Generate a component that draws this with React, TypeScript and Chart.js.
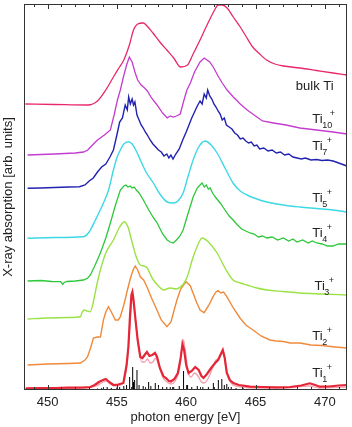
import React, { useEffect, useRef } from 'react';
import { Chart, registerables } from 'chart.js';

Chart.register(...registerables);

// ---------- axis ----------
const xMin = 448.3;
const xMax = 471.6;
const xTickStep = 5;
const yMin = 0;
const yMax = 386;
const xTitle = 'photon energy [eV]';
const yTitle = 'X-ray absorption [arb. units]';

// ---------- series (energy in eV, offset absorption in arb. units) ----------
const bulkE = [448.4, 450.5, 452.9, 453.6, 454.2, 454.75, 455.1, 455.5, 455.9, 456.2, 456.5, 456.9, 457.3, 457.6, 458.1, 458.6, 459.1, 459.6, 460.1, 460.5, 461.0, 461.4, 461.75, 462.05, 462.3, 462.6, 462.95, 463.4, 463.9, 464.3, 464.8, 465.3, 465.8, 466.4, 467.0, 468.2, 469.4, 470.6, 471.6];
const bulkV = [286, 285.5, 285, 289, 300, 313, 321, 330, 345, 360, 366, 367, 362, 357, 348, 340, 332, 323, 325, 336, 350, 362, 372, 380, 385, 385, 382, 373, 363, 354, 343, 336, 330, 326, 324, 322, 319.5, 317, 315];

const ti10E = [448.56, 450.5, 452.0, 452.6, 452.9, 453.1, 453.6, 454.1, 454.53, 454.8, 455.04, 455.25, 455.47, 455.7, 455.9, 456.1, 456.3, 456.5, 456.75, 457.0, 457.2, 457.5, 457.9, 458.3, 458.63, 458.85, 459.06, 459.3, 459.57, 459.8, 460.05, 460.3, 460.6, 461.0, 461.3, 461.5, 461.7, 461.95, 462.3, 462.6, 462.95, 463.4, 463.9, 464.4, 464.8, 465.5, 466.3, 467.2, 468.2, 469.4, 470.6, 471.6];
const ti10V = [235, 236, 237, 238, 240, 243, 250, 255, 260, 275, 290, 300, 313, 325, 333, 328, 318, 310, 305, 302, 299, 292, 285, 277, 272, 274, 273, 274, 276, 288, 300, 307, 318, 328, 332, 330, 328, 323, 314, 307, 300, 293, 286, 280, 276, 269, 267, 265, 262, 260, 258, 256];

const ti7E = [448.56, 449.5, 450.5, 451.5, 452.3, 452.7, 453.0, 453.3, 453.6, 453.9, 454.2, 454.5, 454.75, 455.0, 455.2, 455.4, 455.6, 455.75, 455.85, 455.97, 456.1, 456.2, 456.3, 456.45, 456.6, 456.75, 456.9, 457.05, 457.2, 457.4, 457.6, 457.8, 458.0, 458.2, 458.4, 458.6, 458.75, 458.9, 459.05, 459.25, 459.5, 459.75, 460.0, 460.2, 460.4, 460.6, 460.8, 461.0, 461.15, 461.3, 461.45, 461.55, 461.7, 461.85, 462.0, 462.15, 462.3, 462.45, 462.6, 462.75, 462.9, 463.1, 463.3, 463.5, 463.7, 463.9, 464.1, 464.3, 464.5, 464.7, 464.9, 465.1, 465.3, 465.6, 465.9, 466.2, 466.5, 466.8, 467.1, 467.4, 467.7, 468.0, 468.3, 468.6, 469.0, 469.4, 469.8, 470.2, 470.6, 471.0, 471.3, 471.58];
const ti7V = [201.7, 202, 202.5, 203, 203.3, 205, 209, 212, 218, 223, 226, 233, 240, 255, 268, 272, 285, 280, 293, 286, 291, 285, 288, 275, 270, 265, 262, 258, 255, 250, 246, 243, 240, 238, 234, 236, 232, 235, 231, 236, 241, 250, 258, 265, 272, 278, 284, 289, 286, 296, 292, 300, 294, 291, 286, 283, 279, 276, 270, 272, 265, 263, 261, 257, 255, 251, 252, 249, 247, 248, 244, 245, 241, 242, 239, 240, 237, 238, 235, 236, 233, 232, 231, 232, 230, 230.5, 229.5, 230, 229, 227, 225.5, 224];

const ti5E = [448.56, 450.5, 452.59, 453.0, 453.45, 454.03, 454.4, 454.75, 455.0, 455.25, 455.5, 455.83, 456.1, 456.4, 456.69, 457.1, 457.63, 458.1, 458.63, 459.06, 459.4, 459.78, 460.1, 460.5, 460.9, 461.37, 461.8, 462.23, 462.8, 463.38, 463.9, 464.39, 465.1, 465.83, 467.0, 468.2, 469.4, 470.58, 471.58];
const ti5V = [151.7, 152.5, 153.3, 158, 170, 187, 200, 220, 232, 240, 246, 248.3, 246, 239, 230, 218, 207, 196, 188, 187, 189, 197, 212, 230, 243, 249, 245, 237, 222, 207, 199, 195, 191, 188, 185, 183, 181.5, 180, 178];

const ti4E = [448.56, 449.5, 450.3, 450.94, 451.1, 451.2, 451.4, 452.0, 452.59, 452.9, 453.09, 453.4, 453.81, 454.2, 454.53, 454.9, 455.25, 455.5, 455.65, 455.8, 455.95, 456.1, 456.25, 456.4, 456.6, 456.91, 457.3, 457.6, 457.91, 458.3, 458.63, 458.85, 459.06, 459.3, 459.55, 459.78, 460.1, 460.5, 460.8, 461.0, 461.15, 461.3, 461.45, 461.6, 461.73, 461.9, 462.1, 462.45, 462.8, 463.1, 463.38, 463.7, 464.0, 464.3, 464.6, 464.9, 465.2, 465.5, 465.83, 466.2, 466.6, 467.0, 467.4, 467.7, 468.0, 468.4, 468.8, 469.1, 469.42, 469.8, 470.2, 470.58, 471.0, 471.58];
const ti4V = [109, 109.5, 108.5, 108.3, 105.5, 107.5, 108.5, 109, 110, 112, 115, 124, 137, 152, 167, 185, 200, 204, 205, 203, 204, 202, 203, 200, 197, 190, 180, 173, 167, 156, 150, 148, 147, 150, 154, 160, 175, 193, 202, 205, 207, 203, 205, 201, 202, 197, 193, 187, 180, 174, 170, 165, 161, 159, 157, 156, 153, 154, 152, 153, 150, 152, 149, 151, 148, 150, 147, 149, 147, 146, 144, 144, 146, 146];

const ti3E = [448.56, 450.0, 451.5, 452.37, 452.5, 452.65, 452.85, 453.09, 453.3, 453.55, 453.81, 454.2, 454.75, 455.2, 455.54, 455.8, 456.0, 456.19, 456.4, 456.69, 456.95, 457.19, 457.4, 457.63, 458.0, 458.35, 458.85, 459.3, 459.57, 459.8, 460.07, 460.5, 461.01, 461.15, 461.6, 462.23, 462.8, 463.38, 463.9, 464.39, 465.1, 465.83, 467.0, 468.2, 469.8, 471.58];
const ti3V = [71, 72, 72.5, 73.3, 78, 80, 79, 78.3, 88, 105, 120, 137, 150, 163, 168.3, 163, 153, 143, 133, 125, 124, 122, 116, 110, 104, 100, 102, 101, 103, 106, 113, 133, 150, 152, 148, 137, 122, 110, 107, 105, 102, 100, 98.5, 97, 96, 95];

const ti2E = [448.56, 450.0, 451.5, 452.37, 452.7, 452.88, 453.1, 453.31, 453.6, 453.81, 454.03, 454.2, 454.39, 454.6, 454.89, 455.1, 455.25, 455.5, 455.76, 456.0, 456.2, 456.33, 456.5, 456.7, 456.93, 457.17, 457.5, 457.89, 458.2, 458.61, 458.9, 459.33, 459.6, 460.0, 460.3, 460.77, 461.0, 461.29, 461.6, 461.94, 462.15, 462.3, 462.5, 462.7, 462.93, 463.4, 463.88, 464.3, 464.82, 465.4, 466.04, 466.5, 467.0, 467.5, 468.2, 469.0, 469.8, 470.58, 471.58];
const ti2V = [25, 26, 26.5, 27, 30, 33, 42, 52, 53, 53, 70, 78, 83.3, 78, 70, 70, 73.3, 85, 100, 113, 121, 124, 120, 113, 110, 103, 92, 80, 70, 63.3, 68, 90, 101, 108.3, 104, 87, 80, 77.3, 84, 93.3, 98, 99.3, 97, 98, 93.3, 82, 72, 65, 60, 54, 50, 49, 48.5, 47, 47, 45, 44.5, 43.3, 42];

const ti1E = [448.42, 449.5, 450.5, 451.5, 452.5, 453.09, 453.4, 453.7, 454.0, 454.2, 454.45, 454.75, 455.1, 455.47, 455.7, 455.83, 455.95, 456.05, 456.12, 456.2, 456.33, 456.5, 456.69, 456.85, 457.0, 457.17, 457.35, 457.55, 457.75, 457.9, 458.1, 458.35, 458.56, 458.75, 458.9, 459.15, 459.4, 459.6, 459.73, 459.85, 460.0, 460.17, 460.4, 460.65, 460.9, 461.1, 461.25, 461.5, 461.8, 462.09, 462.3, 462.5, 462.64, 462.78, 462.93, 463.15, 463.4, 463.8, 464.6, 465.5, 466.5, 467.5, 468.3, 468.92, 469.3, 469.64, 470.3, 471.0, 471.58];
const ti1V = [1.7, 2, 2, 2.3, 2.5, 3, 5, 8, 10, 11, 8, 5, 5.5, 7, 25, 43, 75, 95, 98, 90, 72, 50, 33, 32, 35, 38, 34, 35, 37, 33, 22, 14, 11.7, 9, 8.5, 11, 17, 32, 46, 40, 25, 17, 19, 23, 20, 14, 12, 16, 22, 27, 30, 36, 40, 32, 17, 10, 7, 5, 3.3, 3, 2.7, 3, 4.5, 6.7, 5, 3.3, 3.5, 4.5, 5];

const theoryE = [448.42, 452.5, 453.5, 454.0, 454.2, 454.5, 454.9, 455.4, 455.7, 455.9, 456.05, 456.15, 456.25, 456.4, 456.6, 456.8, 457.0, 457.2, 457.4, 457.6, 457.8, 458.0, 458.3, 458.6, 458.9, 459.2, 459.5, 459.7, 459.8, 459.95, 460.15, 460.35, 460.6, 460.85, 461.1, 461.3, 461.6, 461.9, 462.15, 462.35, 462.55, 462.68, 462.85, 463.1, 463.4, 464.0, 465.0, 467.0, 468.9, 469.6, 471.58];
const theoryV = [1, 1.5, 4, 8, 9, 6, 4, 6, 22, 55, 85, 92, 85, 62, 40, 28, 28, 31, 27, 28, 32, 26, 13, 8, 6, 9, 20, 42, 50, 38, 18, 13, 17, 14, 8, 7, 12, 22, 30, 31, 36, 38, 24, 10, 5, 3, 2, 2, 4, 2, 3];

const stickE = [453.6, 453.9, 454.3, 454.6, 455.0, 455.2, 455.5, 455.7, 455.92, 456.14, 456.2, 456.28, 456.45, 456.6, 456.9, 457.29, 457.45, 457.77, 458.0, 458.3, 458.6, 458.85, 459.1, 459.5, 459.81, 460.1, 460.4, 460.8, 461.2, 461.6, 461.96, 462.32, 462.57, 462.75, 462.93, 463.25, 463.6, 464.1];
const stickH = [1.5, 2, 3, 2, 2.5, 3, 4, 5, 13, 23, 8, 10, 20, 5, 4, 8, 4, 7, 5, 3, 3, 3, 3, 4, 19, 5, 3, 4, 3, 3, 7, 10, 11, 5, 6, 3, 2, 2];

// ---------- labels ----------
const labelMain = ['bulk Ti', 'Ti', 'Ti', 'Ti', 'Ti', 'Ti', 'Ti', 'Ti'];
const labelSub = ['', '10', '7', '5', '4', '3', '2', '1'];
const labelSup = ['', '+', '+', '+', '+', '+', '+', '+'];
const labelE = [467.91, 469.1, 469.1, 469.1, 469.1, 469.25, 469.1, 469.1];
const labelV = [300, 267, 240, 188, 153, 100, 50, 13];

const FONT = '"Liberation Sans", Arial, Helvetica, sans-serif';
const TEXT = '#222';

const pts = (e: number[], v: number[]) => e.map((x, i) => ({ x, y: v[i] }));
const sticks = (e: number[], h: number[]) => {
  const out: any[] = [];
  e.forEach((x, i) => {
    out.push({ x, y: 0 }, { x, y: h[i] }, { x, y: null });
  });
  return out;
};

const framePlugin = {
  id: 'frameTicks',
  afterDatasetsDraw(chart: any) {
    const { ctx, chartArea: a, scales } = chart;
    const x = scales.x;
    ctx.save();
    ctx.strokeStyle = '#333';
    ctx.lineWidth = 1;
    ctx.strokeRect(a.left + 0.5, a.top + 0.5, a.right - a.left - 1, a.bottom - a.top - 1);
    for (let v = Math.ceil(xMin); v <= Math.floor(xMax); v++) {
      const px = Math.round(x.getPixelForValue(v)) + 0.5;
      const len = v % xTickStep === 0 ? 5 : 3;
      ctx.beginPath();
      ctx.moveTo(px, a.bottom);
      ctx.lineTo(px, a.bottom - len);
      ctx.moveTo(px, a.top);
      ctx.lineTo(px, a.top + len);
      ctx.stroke();
    }
    ctx.restore();
  },
};

const labelPlugin = {
  id: 'traceLabels',
  afterDatasetsDraw(chart: any) {
    const { ctx, scales } = chart;
    ctx.save();
    ctx.fillStyle = TEXT;
    ctx.textBaseline = 'alphabetic';
    ctx.textAlign = 'left';
    labelMain.forEach((t, i) => {
      const px = scales.x.getPixelForValue(labelE[i]);
      const py = scales.y.getPixelForValue(labelV[i]);
      ctx.font = `13px ${FONT}`;
      ctx.fillText(t, px, py);
      const w = ctx.measureText(t).width;
      if (labelSub[i]) {
        ctx.font = `9px ${FONT}`;
        ctx.fillText(labelSub[i], px + w - 0.5, py + 5);
        const sw = ctx.measureText(labelSub[i]).width;
        ctx.fillText(labelSup[i], px + w + Math.max(sw - 3, 4), py - 7);
      }
    });
    ctx.restore();
  },
};

export default function App() {
  const ref = useRef<HTMLCanvasElement | null>(null);
  useEffect(() => {
    if (!ref.current) return;
    const line = (data: any[], color: string, width: number, order: number, smooth = true) => ({
      type: 'scatter' as const,
      data,
      showLine: true,
      borderColor: color,
      backgroundColor: color,
      borderWidth: width,
      pointRadius: 0,
      fill: false,
      tension: smooth ? 0.3 : 0,
      cubicInterpolationMode: smooth ? 'monotone' : 'default',
      order,
    });
    const chart = new Chart(ref.current, {
      type: 'scatter',
      data: {
        datasets: [
          line(pts(ti1E, ti1V), '#e42636', 2.2, 0, false),
          line(pts(theoryE, theoryV), '#f3a0b0', 1.3, 1),
          { ...line(sticks(stickE, stickH), '#000', 1, 2, false), spanGaps: false },
          line(pts(bulkE, bulkV), '#e8286e', 1.3, 3),
          line(pts(ti10E, ti10V), '#c43ccf', 1.3, 3, false),
          line(pts(ti7E, ti7V), '#2222b0', 1.4, 3, false),
          line(pts(ti5E, ti5V), '#3cd8e6', 1.4, 3),
          line(pts(ti4E, ti4V), '#2cc83a', 1.3, 3, false),
          line(pts(ti3E, ti3V), '#9ae244', 1.4, 3),
          line(pts(ti2E, ti2V), '#f08a3a', 1.4, 3, false),
        ] as any,
      },
      options: {
        animation: false,
        responsive: false,
        maintainAspectRatio: false,
        layout: { padding: { left: 0, right: 5, top: 4, bottom: 0 } },
        plugins: { legend: { display: false }, tooltip: { enabled: false } },
        scales: {
          x: {
            type: 'linear',
            min: xMin,
            max: xMax,
            grid: { display: false, drawTicks: false },
            border: { display: false },
            ticks: { stepSize: xTickStep, includeBounds: false, padding: 5, color: TEXT, font: { family: FONT, size: 13 } },
            title: { display: true, text: xTitle, color: TEXT, font: { family: FONT, size: 13 }, padding: { top: 0, bottom: 2 } },
            afterFit: (s: any) => { s.height = 37; },
          },
          y: {
            type: 'linear',
            min: yMin,
            max: yMax,
            grid: { display: false, drawTicks: false },
            border: { display: false },
            ticks: { display: false },
            title: { display: true, text: yTitle, color: TEXT, font: { family: FONT, size: 13 }, padding: { top: 1, bottom: 0 } },
            afterFit: (s: any) => { s.width = 24; },
          },
        },
      } as any,
      plugins: [framePlugin, labelPlugin],
    });
    return () => chart.destroy();
  }, []);
  return (
    <div style={{ position: 'fixed', left: 0, top: 0, width: 352, height: 427, background: '#fff' }}>
      <canvas ref={ref} width={352} height={427} />
    </div>
  );
}
